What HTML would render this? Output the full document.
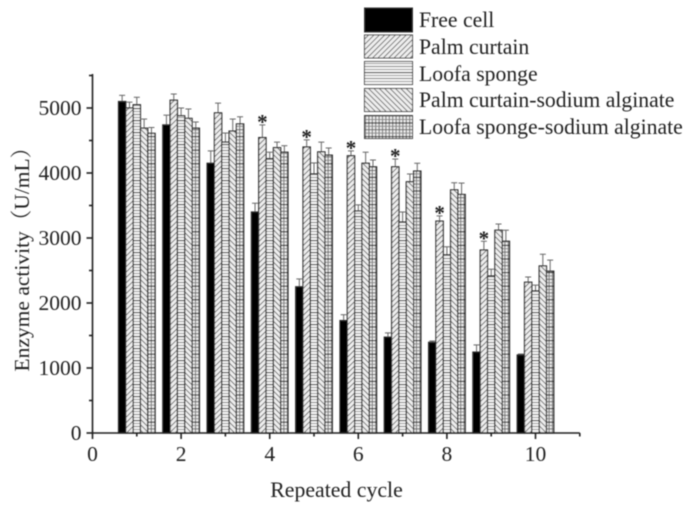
<!DOCTYPE html>
<html>
<head>
<meta charset="utf-8">
<style>
html,body{margin:0;padding:0;background:#fff;width:696px;height:509px;overflow:hidden}
svg{display:block}
text{font-family:"Liberation Serif","Noto Serif CJK SC",serif;fill:#222}
</style>
</head>
<body>
<svg id="chart" width="696" height="509" viewBox="0 0 696 509" xmlns="http://www.w3.org/2000/svg">
<defs>
<filter id="soft" x="-5%" y="-5%" width="110%" height="110%"><feGaussianBlur stdDeviation="0.4"/></filter>
<pattern id="hatch-palm" patternUnits="userSpaceOnUse" width="3.8" height="3.8" patternTransform="rotate(45)">
<rect width="3.8" height="3.8" fill="#eee"/><line x1="0" y1="0" x2="0" y2="3.8" stroke="#444" stroke-width="1.5"/>
</pattern>
<pattern id="hatch-loofa" patternUnits="userSpaceOnUse" width="8" height="12">
<rect width="8" height="12" fill="#f6f6f6"/>
<line x1="0" x2="8" y1="0.5" y2="0.5" stroke="#222" stroke-width="1.2"/>
<line x1="0" x2="8" y1="3.5" y2="3.5" stroke="#999" stroke-width="1"/>
<line x1="0" x2="8" y1="6.5" y2="6.5" stroke="#777" stroke-width="1"/>
<line x1="0" x2="8" y1="9.5" y2="9.5" stroke="#999" stroke-width="1"/>
</pattern>
<pattern id="hatch-pca" patternUnits="userSpaceOnUse" width="3.8" height="3.8" patternTransform="rotate(-45)">
<rect width="3.8" height="3.8" fill="#eee"/><line x1="0" y1="0" x2="0" y2="3.8" stroke="#444" stroke-width="1.5"/>
</pattern>
<pattern id="hatch-lsa" patternUnits="userSpaceOnUse" width="3.4" height="13.6">
<rect width="3.4" height="13.6" fill="#f2f2f2"/>
<line x1="1.7" x2="1.7" y1="0" y2="13.6" stroke="#666" stroke-width="1"/>
<line x1="0" x2="3.4" y1="0.5" y2="0.5" stroke="#222" stroke-width="1.2"/>
<line x1="0" x2="3.4" y1="3.9" y2="3.9" stroke="#888" stroke-width="1"/>
<line x1="0" x2="3.4" y1="7.3" y2="7.3" stroke="#666" stroke-width="1"/>
<line x1="0" x2="3.4" y1="10.7" y2="10.7" stroke="#888" stroke-width="1"/>
</pattern>
</defs>
<g filter="url(#soft)">
<g id="bars"></g>
<g id="axes"></g>
<text transform="translate(29,371.500) rotate(-90)" font-size="21.5">Enzyme activity（U/mL）</text>
<text x="336.500" y="497" text-anchor="middle" font-size="21.8">Repeated cycle</text>
<g>
<rect x="364.5" y="8" width="48" height="24" fill="#000" stroke="#333"/>
<text x="419" y="27" font-size="21.7">Free cell</text>
<rect x="364.5" y="35" width="48" height="23" fill="url(#hatch-palm)" stroke="#444"/>
<text x="419" y="54" font-size="21.7">Palm curtain</text>
<rect x="364.5" y="61.500" width="48" height="23" fill="url(#hatch-loofa)" stroke="#444"/>
<text x="419" y="81" font-size="21.7">Loofa sponge</text>
<rect x="364.5" y="88.500" width="48" height="23" fill="url(#hatch-pca)" stroke="#444"/>
<text x="419" y="107" font-size="21.7">Palm curtain-sodium alginate</text>
<rect x="364.5" y="115.500" width="48" height="23" fill="url(#hatch-lsa)" stroke="#444"/>
<text x="419" y="134" font-size="21.7">Loofa sponge-sodium alginate</text>
</g>
</g>
</svg>
<script>
var cycles = [1, 2, 3, 4, 5, 6, 7, 8, 9, 10];
var freeCell = [5100, 4740, 4150, 3400, 2250, 1730, 1475, 1395, 1245, 1200];
var freeCellErr = [95, 150, 190, 135, 120, 90, 65, 20, 110, 15];
var palmCurtain = [5000, 5120, 4925, 4545, 4400, 4265, 4095, 3260, 2815, 2320];
var palmCurtainErr = [90, 95, 150, 195, 110, 75, 120, 80, 135, 80];
var loofaSponge = [5050, 4880, 4475, 4220, 3985, 3415, 3245, 2740, 2415, 2185];
var loofaSpongeErr = [115, 120, 140, 100, 170, 95, 155, 125, 105, 90];
var palmSodium = [4690, 4840, 4645, 4390, 4325, 4150, 3865, 3740, 3120, 2570];
var palmSodiumErr = [140, 145, 185, 85, 150, 170, 120, 110, 95, 180];
var loofaSodium = [4610, 4690, 4755, 4320, 4275, 4095, 4030, 3670, 2950, 2490];
var loofaSodiumErr = [90, 95, 110, 100, 110, 105, 120, 175, 170, 170];
var starCycles = [4, 5, 6, 7, 8, 9];
var xTickLabels = [0, 2, 4, 6, 8, 10];
var yTickLabels = [0, 1000, 2000, 3000, 4000, 5000];

var NS = 'http://www.w3.org/2000/svg';
function xScale(v) { return 92.5 + v * 44.3; }
function yScale(v) { return 433 - v * 0.065; }
function make(tag, attrs, parent) {
  var el = document.createElementNS(NS, tag);
  for (var k in attrs) el.setAttribute(k, attrs[k]);
  parent.appendChild(el);
  return el;
}
var seriesList = [
  { key: 'free-cell', fill: '#000', values: freeCell, errs: freeCellErr },
  { key: 'palm-curtain', fill: 'url(#hatch-palm)', values: palmCurtain, errs: palmCurtainErr },
  { key: 'loofa-sponge', fill: 'url(#hatch-loofa)', values: loofaSponge, errs: loofaSpongeErr },
  { key: 'palm-sodium', fill: 'url(#hatch-pca)', values: palmSodium, errs: palmSodiumErr },
  { key: 'loofa-sodium', fill: 'url(#hatch-lsa)', values: loofaSodium, errs: loofaSodiumErr }
];
var barsGroup = document.getElementById('bars');
var axesGroup = document.getElementById('axes');
var barW = 7.33;
seriesList.forEach(function (s, si) {
  cycles.forEach(function (c, i) {
    var left = xScale(c) - 2.5 * barW + si * barW;
    var mid = left + barW / 2;
    var top = yScale(s.values[i]);
    var errTop = yScale(s.values[i] + s.errs[i]);
    var stem = make('line', { x1: mid, x2: mid, y1: top, y2: errTop, stroke: '#666', 'stroke-width': 1 }, barsGroup);
    
    
    var cap = make('line', { x1: mid - 3, x2: mid + 3, y1: errTop, y2: errTop, stroke: '#666', 'stroke-width': 1 }, barsGroup);
    
    
    var bar = make('rect', { x: left, y: top, width: barW, height: yScale(0) - top, fill: s.fill, stroke: '#2c2c2c', 'stroke-width': 1.2 }, barsGroup);
    
    
  });
});
starCycles.forEach(function (c) {
  var i = cycles.indexOf(c);
  var mid = xScale(c) - 1.5 * barW + barW / 2;
  var star = make('text', { x: mid, y: yScale(palmCurtain[i] + palmCurtainErr[i]) + 4, 'text-anchor': 'middle', 'font-size': 21, 'font-weight': 'bold' }, barsGroup);
  
  
  star.textContent = '*';
});
var axisStyle = { stroke: '#222', 'stroke-width': 1.6 };
function axisLine(x1, y1, x2, y2, name) {
  var el = make('line', { x1: x1, y1: y1, x2: x2, y2: y2, stroke: axisStyle.stroke, 'stroke-width': axisStyle['stroke-width'] }, axesGroup);
  
  
}
axisLine(xScale(0), yScale(0) + 0.8, xScale(0), 74, 'y-axis-line');
axisLine(xScale(0), yScale(0), xScale(11), yScale(0), 'x-axis-line');
for (var t = 0; t <= 5500; t += 500) {
  axisLine(xScale(0) - (t % 1000 === 0 ? 6 : 3.5), yScale(t), xScale(0), yScale(t), t % 1000 === 0 ? 'y-major-tick' : 'y-minor-tick');
}
for (var u = 0; u <= 11; u++) {
  axisLine(xScale(u), yScale(0), xScale(u), yScale(0) + (u % 2 === 0 ? 6 : 3.5), u % 2 === 0 ? 'x-major-tick' : 'x-minor-tick');
}
xTickLabels.forEach(function (v) {
  var el = make('text', { x: xScale(v), y: 461, 'text-anchor': 'middle', 'font-size': 21.5 }, axesGroup);
  
  
  el.textContent = v;
});
yTickLabels.forEach(function (v) {
  var el = make('text', { x: 81.5, y: yScale(v) + 7, 'text-anchor': 'end', 'font-size': 21.5 }, axesGroup);
  
  
  el.textContent = v;
});
</script>
</body>
</html>
